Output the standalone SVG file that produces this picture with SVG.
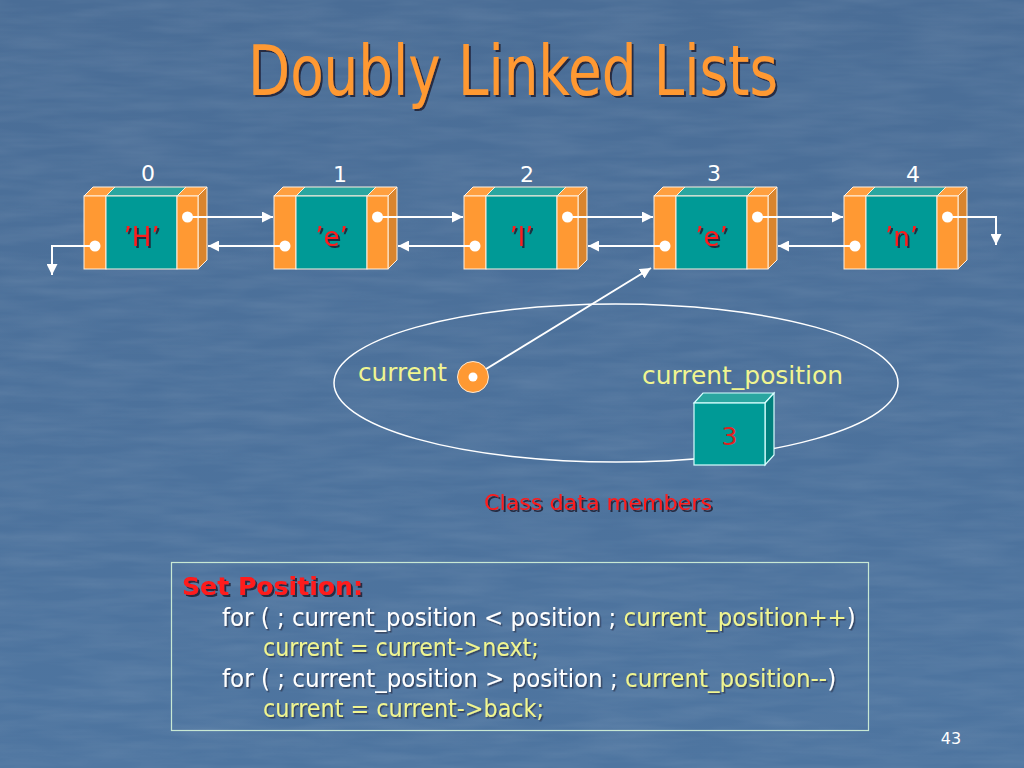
<svg xmlns="http://www.w3.org/2000/svg" xmlns:xlink="http://www.w3.org/1999/xlink" width="1024" height="768" viewBox="0 0 1024 768">
<style>
  .t { font-family: "DejaVu Sans", "Liberation Sans", sans-serif; }
  .num { font-size: 22px; fill: #FFFFFF; text-anchor: middle; }
  .val { font-size: 26px; fill: #FF1A1A; text-anchor: middle; filter: url(#sh); }
  .yel { fill: #F0F590; }
  .wht { fill: #FFFFFF; }
  .code { font-size: 24px; filter: url(#sh2); }
  .link { stroke: #FFFFFF; stroke-width: 2; fill: none; }
  .dot { fill: #FFFFFF; }
</style>
<defs>
  <linearGradient id="bg" x1="0" y1="0" x2="0" y2="1">
    <stop offset="0" stop-color="#4A6D96"/>
    <stop offset="1" stop-color="#4E75A0"/>
  </linearGradient>
  <filter id="tex" x="0" y="0" width="100%" height="100%">
    <feTurbulence type="fractalNoise" baseFrequency="0.012 0.09" numOctaves="3" seed="4" result="n"/>
    <feColorMatrix type="matrix" values="0 0 0 0 1  0 0 0 0 1  0 0 0 0 1  0 0 0 0.35 -0.1"/>
  </filter>
  <filter id="sh" x="-20%" y="-20%" width="140%" height="140%">
    <feDropShadow dx="2" dy="2" stdDeviation="0.6" flood-color="#1C2433" flood-opacity="0.85"/>
  </filter>
  <filter id="sh2" x="-5%" y="-20%" width="110%" height="140%">
    <feDropShadow dx="1.5" dy="1.5" stdDeviation="0.6" flood-color="#1C2433" flood-opacity="0.6"/>
  </filter>
  <marker id="ah" viewBox="0 0 10 10" refX="10" refY="5" markerWidth="11" markerHeight="11" markerUnits="userSpaceOnUse" orient="auto">
    <path d="M0,0 L10,5 L0,10 Z" fill="#FFFFFF"/>
  </marker>
  <g id="cell">
    <polygon points="0,0 9,-9 31,-9 22,0" fill="#FFA040" stroke="#FFF0E0" stroke-width="1"/>
    <polygon points="22,0 31,-9 102,-9 93,0" fill="#2AA6A0" stroke="#FFF0E0" stroke-width="1"/>
    <polygon points="93,0 102,-9 123,-9 114,0" fill="#FFA040" stroke="#FFF0E0" stroke-width="1"/>
    <polygon points="114,0 123,-9 123,64 114,73" fill="#D9852E" stroke="#FFF0E0" stroke-width="1"/>
    <rect x="0" y="0" width="22" height="73" fill="#FF9933" stroke="#FFF0E0" stroke-width="1"/>
    <rect x="22" y="0" width="71" height="73" fill="#009A96" stroke="#FFF0E0" stroke-width="1"/>
    <rect x="93" y="0" width="21" height="73" fill="#FF9933" stroke="#FFF0E0" stroke-width="1"/>
    <circle cx="103.5" cy="21" r="5.5" class="dot"/>
    <circle cx="11" cy="50" r="5.5" class="dot"/>
  </g>
</defs>

<rect x="0" y="0" width="1024" height="768" fill="url(#bg)"/>
<rect x="0" y="0" width="1024" height="768" filter="url(#tex)" opacity="0.35"/>

<text class="t" x="248" y="95" font-size="69" fill="#FF9933" textLength="530" lengthAdjust="spacingAndGlyphs" style="filter:url(#sh)">Doubly Linked Lists</text>

<g id="node0">
  <use xlink:href="#cell" transform="translate(84,196)"/>
  <text class="t num" x="148" y="181">0</text>
  <text class="t val" x="141.5" y="246">’H’</text>
</g>
<g id="node1">
  <use xlink:href="#cell" transform="translate(274,196)"/>
  <text class="t num" x="340" y="182">1</text>
  <text class="t val" x="331.5" y="246">’e’</text>
</g>
<g id="node2">
  <use xlink:href="#cell" transform="translate(464,196)"/>
  <text class="t num" x="527" y="182">2</text>
  <text class="t val" x="521.5" y="246">’l’</text>
</g>
<g id="node3">
  <use xlink:href="#cell" transform="translate(654,196)"/>
  <text class="t num" x="714" y="181">3</text>
  <text class="t val" x="711.5" y="246">’e’</text>
</g>
<g id="node4">
  <use xlink:href="#cell" transform="translate(844,196)"/>
  <text class="t num" x="913" y="182">4</text>
  <text class="t val" x="901.5" y="246">’n’</text>
</g>

<g id="connectors">
  <line class="link" x1="187.5" y1="217" x2="273" y2="217" marker-end="url(#ah)"/>
  <line class="link" x1="377.5" y1="217" x2="463" y2="217" marker-end="url(#ah)"/>
  <line class="link" x1="567.5" y1="217" x2="653" y2="217" marker-end="url(#ah)"/>
  <line class="link" x1="757.5" y1="217" x2="843" y2="217" marker-end="url(#ah)"/>
  <line class="link" x1="285" y1="246" x2="208" y2="246" marker-end="url(#ah)"/>
  <line class="link" x1="475" y1="246" x2="398" y2="246" marker-end="url(#ah)"/>
  <line class="link" x1="665" y1="246" x2="588" y2="246" marker-end="url(#ah)"/>
  <line class="link" x1="855" y1="246" x2="778" y2="246" marker-end="url(#ah)"/>
  <polyline class="link" points="95,246 52,246 52,275" marker-end="url(#ah)"/>
  <polyline class="link" points="947.5,217 996,217 996,245" marker-end="url(#ah)"/>
  <line class="link" x1="473" y1="377" x2="651" y2="268" marker-end="url(#ah)"/>
</g>

<g id="class-members">
  <ellipse cx="616" cy="383" rx="282" ry="79" fill="none" stroke="#FFFFFF" stroke-width="1.5"/>
  <text class="t" x="484" y="510" font-size="22" fill="#FF1A1A" textLength="228" lengthAdjust="spacingAndGlyphs" style="filter:url(#sh)">Class data members</text>
</g>

<g id="current">
  <text class="t yel" x="358" y="381" font-size="24" textLength="89" lengthAdjust="spacingAndGlyphs">current</text>
  <circle cx="473" cy="377" r="15.5" fill="#FF9933" stroke="#FFE8D0" stroke-width="1"/>
  <circle cx="473" cy="377" r="4.5" fill="#FFFFFF"/>
</g>

<g id="current_position">
  <text class="t yel" x="642" y="384" font-size="25" textLength="201" lengthAdjust="spacingAndGlyphs">current_position</text>
  <polygon points="694,403 703,393 774,393 765,403" fill="#2AA6A0" stroke="#D8FFFF" stroke-width="1.2"/>
  <polygon points="765,403 774,393 774,455 765,465" fill="#007F7C" stroke="#D8FFFF" stroke-width="1.2"/>
  <rect x="694" y="403" width="71" height="62" fill="#009A96" stroke="#D8FFFF" stroke-width="1.2"/>
  <text class="t" x="729.5" y="445" font-size="25" fill="#E02020" text-anchor="middle">3</text>
</g>

<g id="code">
  <rect x="171.5" y="562.5" width="697" height="168" fill="none" stroke="#C8E8D4" stroke-width="1.2"/>
  <text class="t" x="182" y="595" font-size="25" font-weight="bold" fill="#FF1A1A" textLength="181" lengthAdjust="spacingAndGlyphs" style="filter:url(#sh)">Set Position:</text>
  <text class="t code" transform="translate(222,626) scale(0.955,1)" x="0" y="0"><tspan class="wht">for ( ; current_position &lt; position ; </tspan><tspan class="yel">current_position++</tspan><tspan class="wht">)</tspan></text>
  <text class="t code yel" transform="translate(263,656) scale(0.924,1)" x="0" y="0">current = current-&gt;next;</text>
  <text class="t code" transform="translate(222,687) scale(0.958,1)" x="0" y="0"><tspan class="wht">for ( ; current_position &gt; position ; </tspan><tspan class="yel">current_position--</tspan><tspan class="wht">)</tspan></text>
  <text class="t code yel" transform="translate(263,717) scale(0.93,1)" x="0" y="0">current = current-&gt;back;</text>
</g>

<text class="t" x="951" y="744" font-size="16" fill="#FFFFFF" text-anchor="middle">43</text>
</svg>
